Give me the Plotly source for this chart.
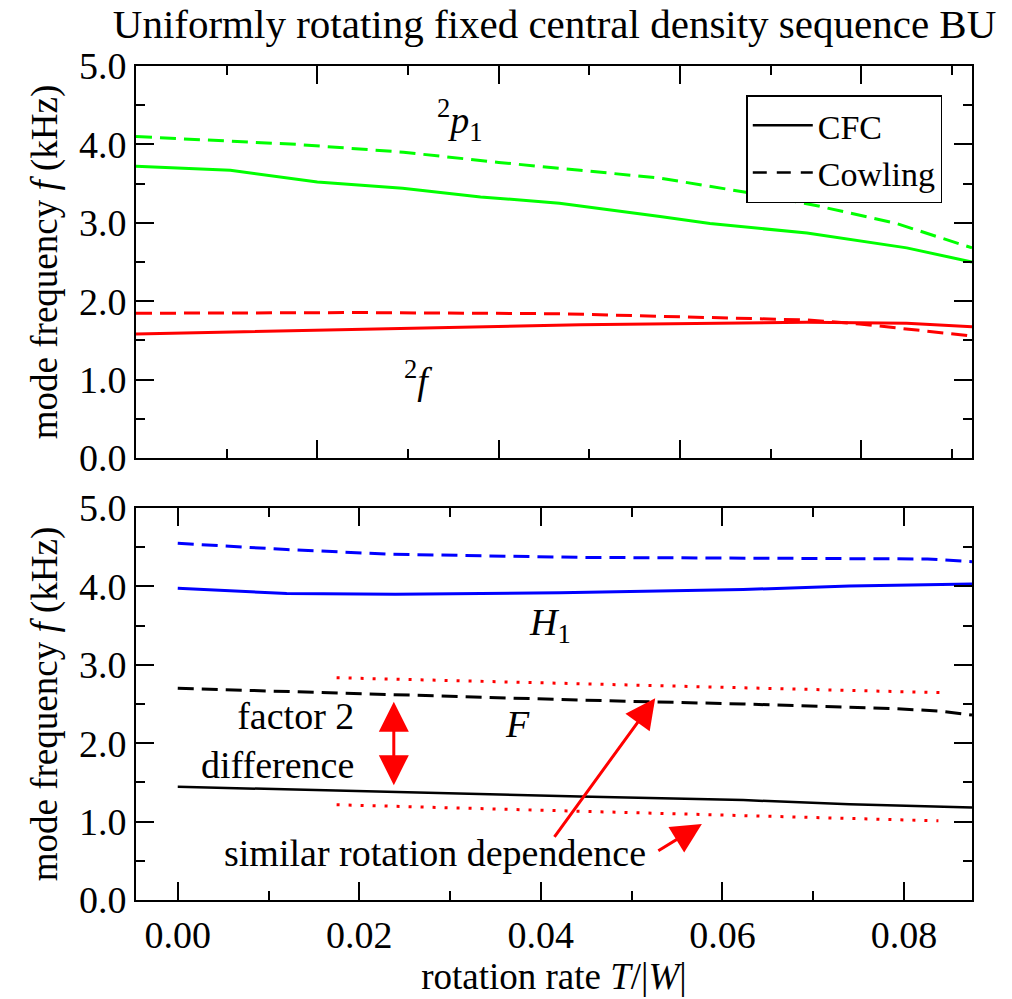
import plotly.graph_objects as go

# ---------------- data ----------------
# top panel (x scale: T/|W|)
p1_cfc_x = [0.0, 0.0104, 0.0200, 0.0294, 0.0380, 0.0467, 0.0578, 0.0633, 0.0740, 0.0850, 0.0922]
p1_cfc_y = [3.72, 3.67, 3.52, 3.44, 3.33, 3.25, 3.08, 2.99, 2.87, 2.68, 2.50]
p1_cow_x = [0.0, 0.0177, 0.0295, 0.0400, 0.0490, 0.0578, 0.0688, 0.0754, 0.0839, 0.0922]
p1_cow_y = [4.10, 4.00, 3.90, 3.77, 3.67, 3.57, 3.36, 3.21, 2.99, 2.68]
f2_cfc_x = [0.0, 0.0250, 0.0490, 0.0740, 0.0850, 0.0922]
f2_cfc_y = [1.58, 1.645, 1.70, 1.73, 1.72, 1.675]
f2_cow_x = [0.0, 0.0250, 0.0467, 0.0578, 0.0740, 0.0798, 0.0922]
f2_cow_y = [1.846, 1.855, 1.84, 1.81, 1.76, 1.71, 1.556]

# bottom panel
h1_cfc_x = [0.0, 0.0120, 0.0240, 0.0421, 0.0623, 0.0740, 0.0875]
h1_cfc_y = [3.976, 3.91, 3.90, 3.92, 3.96, 4.005, 4.03]
h1_cow_x = [0.0, 0.0120, 0.0237, 0.0443, 0.0826, 0.0875]
h1_cow_y = [4.55, 4.47, 4.41, 4.37, 4.35, 4.315]
F_cfc_x = [0.0, 0.0120, 0.0240, 0.0443, 0.0623, 0.0740, 0.0875]
F_cfc_y = [1.445, 1.41, 1.38, 1.32, 1.275, 1.22, 1.18]
F_cow_x = [0.0, 0.0237, 0.0443, 0.0623, 0.0790, 0.0840, 0.0875]
F_cow_y = [2.70, 2.615, 2.55, 2.50, 2.44, 2.41, 2.36]
guide_up_x = [0.0175, 0.0840]
guide_up_y = [2.835, 2.645]
guide_lo_x = [0.0175, 0.0838]
guide_lo_y = [1.215, 1.01]

x_tick_vals = [0.00, 0.02, 0.04, 0.06, 0.08]
x_tick_text = ["0.00", "0.02", "0.04", "0.06", "0.08"]
y_tick_vals = [0.0, 1.0, 2.0, 3.0, 4.0, 5.0]
y_tick_text = ["0.0", "1.0", "2.0", "3.0", "4.0", "5.0"]

# ---------------- figure ----------------
FONT = "Liberation Serif, Times New Roman, serif"
GREEN = "#00ff00"
RED = "#ff0000"
BLUE = "#0000ff"
BLACK = "#000000"
DASH = "16px,8px"
DOT = "3px,9px"

fig = go.Figure()

def add_line(x, y, color, dash, xa, ya, width=3):
    fig.add_trace(go.Scatter(x=x, y=y, mode="lines", xaxis=xa, yaxis=ya,
                             line=dict(color=color, width=width, dash=dash),
                             showlegend=False, hoverinfo="skip"))

add_line(p1_cow_x, p1_cow_y, GREEN, DASH, "x", "y")
add_line(p1_cfc_x, p1_cfc_y, GREEN, "solid", "x", "y")
add_line(f2_cow_x, f2_cow_y, RED, DASH, "x", "y")
add_line(f2_cfc_x, f2_cfc_y, RED, "solid", "x", "y")

add_line(h1_cow_x, h1_cow_y, BLUE, DASH, "x2", "y2")
add_line(h1_cfc_x, h1_cfc_y, BLUE, "solid", "x2", "y2")
add_line(F_cow_x, F_cow_y, BLACK, DASH, "x2", "y2")
add_line(F_cfc_x, F_cfc_y, BLACK, "solid", "x2", "y2", width=2.5)
add_line(guide_up_x, guide_up_y, RED, DOT, "x2", "y2")
add_line(guide_lo_x, guide_lo_y, RED, DOT, "x2", "y2")

# legend entries
fig.add_trace(go.Scatter(x=[None], y=[None], mode="lines", name="CFC",
                         line=dict(color=BLACK, width=2.5, dash="solid"), xaxis="x", yaxis="y"))
fig.add_trace(go.Scatter(x=[None], y=[None], mode="lines", name="Cowling",
                         line=dict(color=BLACK, width=2.5, dash="14px,10px"), xaxis="x", yaxis="y"))

axis_common = dict(showline=True, linecolor=BLACK, linewidth=2, mirror="allticks",
                   ticks="inside", tickcolor=BLACK, tickwidth=1.5, showgrid=False,
                   zeroline=False, tickfont=dict(family=FONT, size=38, color=BLACK))

fig.update_layout(
    width=1012, height=999,
    margin=dict(l=136, r=40, t=66, b=99),
    paper_bgcolor="white", plot_bgcolor="white",
    font=dict(family=FONT, color=BLACK),
    title=dict(text="Uniformly rotating fixed central density sequence BU",
               x=0.548, xanchor="center", y=0.976, yanchor="middle", yref="container",
               font=dict(family=FONT, size=41, color=BLACK)),
    xaxis=dict(axis_common, domain=[0, 1], anchor="y", range=[0, 0.0922],
               tickmode="array", tickvals=x_tick_vals, ticklen=18, showticklabels=False,
               minor=dict(dtick=0.01, tick0=0, ticklen=9, ticks="inside", tickcolor=BLACK, tickwidth=1.5)),
    yaxis=dict(axis_common, domain=[0.530, 1.0], anchor="x", range=[0, 5],
               tickmode="array", tickvals=y_tick_vals, ticktext=y_tick_text, ticklen=18,
               minor=dict(dtick=0.5, tick0=0, ticklen=9, ticks="inside", tickcolor=BLACK, tickwidth=1.5),
               title=dict(text="mode frequency <i>f</i> (kHz)", standoff=10,
                          font=dict(family=FONT, size=37, color=BLACK))),
    xaxis2=dict(axis_common, domain=[0, 1], anchor="y2", range=[-0.0046, 0.0875],
                tickmode="array", tickvals=x_tick_vals, ticktext=x_tick_text, ticklen=18,
                minor=dict(dtick=0.01, tick0=0, ticklen=9, ticks="inside", tickcolor=BLACK, tickwidth=1.5),
                title=dict(text="rotation rate <i>T</i>/|<i>W</i>|", standoff=6,
                           font=dict(family=FONT, size=37, color=BLACK))),
    yaxis2=dict(axis_common, domain=[0, 0.470], anchor="x2", range=[0, 5],
                tickmode="array", tickvals=y_tick_vals, ticktext=y_tick_text, ticklen=18,
                minor=dict(dtick=0.5, tick0=0, ticklen=9, ticks="inside", tickcolor=BLACK, tickwidth=1.5),
                title=dict(text="mode frequency <i>f</i> (kHz)", standoff=10,
                           font=dict(family=FONT, size=37, color=BLACK))),
    legend=dict(x=0.73, y=0.965, xanchor="left", yanchor="top", xref="paper", yref="paper",
                bordercolor=BLACK, borderwidth=1.5, bgcolor="white", itemwidth=60,
                font=dict(family=FONT, size=34, color=BLACK), tracegroupgap=0),
)

ann_font = dict(family=FONT, size=38, color=BLACK)
annotations = [
    dict(x=0.0357, y=4.31, xref="x", yref="y", text="<sup>2</sup><i>p</i><sub>1</sub>",
         showarrow=False, font=ann_font),
    dict(x=0.0311, y=1.02, xref="x", yref="y", text="<sup>2</sup><i>f</i>",
         showarrow=False, font=ann_font),
    dict(x=0.041, y=3.51, xref="x2", yref="y2", text="<i>H</i><sub>1</sub>",
         showarrow=False, font=ann_font),
    dict(x=0.0374, y=2.245, xref="x2", yref="y2", text="<i>F</i>",
         showarrow=False, font=ann_font),
    dict(x=0.0196, y=2.03, xref="x2", yref="y2", text="factor 2<br>difference",
         xanchor="right", align="right", showarrow=False, font=ann_font),
    dict(x=0.0283, y=0.60, xref="x2", yref="y2", text="similar rotation dependence",
         showarrow=False, font=ann_font),
    # double arrow
    dict(x=0.0238, y=2.53, ax=0.0238, ay=1.445, xref="x2", yref="y2", axref="x2", ayref="y2",
         text="", showarrow=True, arrowhead=2, startarrowhead=2, arrowside="end+start",
         arrowcolor=RED, arrowwidth=3, arrowsize=2.0, startarrowsize=2.0, standoff=0, startstandoff=0),
    # arrow to upper guide
    dict(x=0.0526, y=2.573, ax=0.04138, ay=0.787, xref="x2", yref="y2", axref="x2", ayref="y2",
         text="", showarrow=True, arrowhead=2, arrowcolor=RED, arrowwidth=3, arrowsize=2.0, standoff=0),
    # arrow to lower guide
    dict(x=0.05774, y=0.969, ax=0.05278, ay=0.616, xref="x2", yref="y2", axref="x2", ayref="y2",
         text="", showarrow=True, arrowhead=2, arrowcolor=RED, arrowwidth=3, arrowsize=2.0, standoff=0),
]
fig.update_layout(annotations=annotations)

fig.write_html("out.html", config={"displayModeBar": False},
               post_script="document.body.style.margin='0px';")
